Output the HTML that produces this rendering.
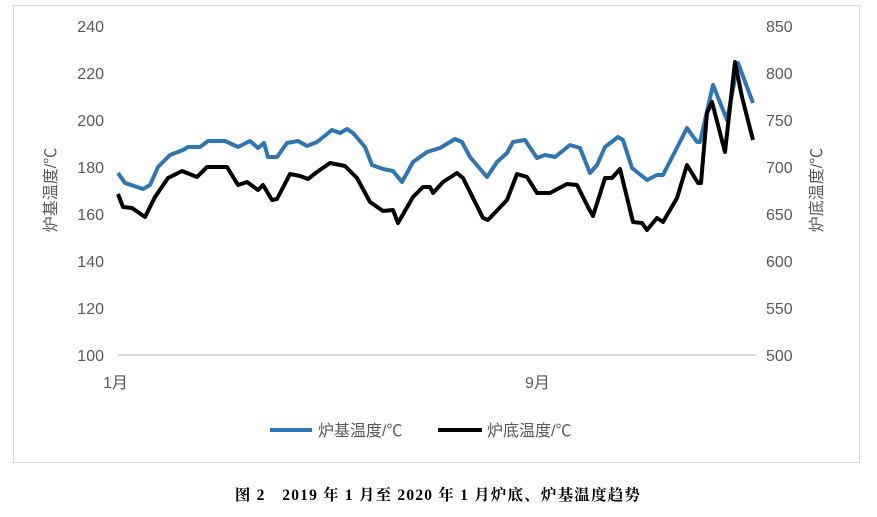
<!DOCTYPE html>
<html><head><meta charset="utf-8"><style>
body{margin:0;background:#fff;width:877px;height:512px;overflow:hidden}
</style></head><body>
<svg width="877" height="512" xmlns="http://www.w3.org/2000/svg" font-family="Liberation Sans, Noto Sans CJK SC, sans-serif">
<rect x="13.5" y="5.5" width="846" height="457" fill="#fff" stroke="#d9d9d9"/>
<line x1="118" y1="355" x2="756" y2="355" stroke="#d9d9d9" stroke-width="2"/>
<g font-size="16" fill="#595959" text-anchor="end">
<text x="104" y="32">240</text><text x="104" y="79">220</text><text x="104" y="126">200</text><text x="104" y="173">180</text><text x="104" y="220">160</text><text x="104" y="267">140</text><text x="104" y="314">120</text><text x="104" y="361">100</text>
</g>
<g font-size="16" fill="#595959" text-anchor="start">
<text x="766" y="32">850</text><text x="766" y="79">800</text><text x="766" y="126">750</text><text x="766" y="173">700</text><text x="766" y="220">650</text><text x="766" y="267">600</text><text x="766" y="314">550</text><text x="766" y="361">500</text>
</g>
<text x="103" y="388" font-size="16" fill="#595959">1月</text>
<text x="525" y="388" font-size="16" fill="#595959">9月</text>
<text transform="translate(56,190) rotate(-90)" font-size="16" fill="#595959" text-anchor="middle">炉基温度/℃</text>
<text transform="translate(822,190) rotate(-90)" font-size="16" fill="#595959" text-anchor="middle">炉底温度/℃</text>
<polyline fill="none" stroke="#2e75b6" stroke-width="4" stroke-linejoin="round" points="118,173 125,183 143,189 150,185 158,167 170,155 183,150 188,147 200,147 208,141 225,141 238,147 250,141 258,148 264,143 268,157 277,157 287,143 298,141 307,146 317,142 332,130 340,133 347,129 353,133 365,147 372,165 383,169 393,171 402,182 413,162 427,152 440,148 455,139 462,142 470,157 487,177 497,162 507,153 513,142 525,140 537,158 545,155 555,157 570,145 580,148 590,173 597,165 605,147 618,137 623,140 632,168 647,180 657,175 663,175 687,128 697,142 700,142 713,85 727,120 738,63 747,87 753,103"/>
<polyline fill="none" stroke="#000" stroke-width="4" stroke-linejoin="round" points="118,194 123,207 132,208 145,217 155,197 168,178 182,171 197,177 207,167 227,167 238,185 247,182 258,190 263,185 272,200 277,199 290,174 300,176 308,179 317,172 330,163 345,166 357,178 370,202 383,211 393,210 398,223 413,197 423,187 430,187 433,193 443,182 457,173 463,178 483,218 488,220 507,200 517,174 527,177 537,193 550,193 567,184 577,185 588,207 593,216 605,178 612,178 620,169 633,222 642,223 647,230 657,218 663,222 677,198 687,165 698,183 701,183 707,113 712,102 725,152 735,62 742,97 753,140"/>
<line x1="270" y1="430" x2="312" y2="430" stroke="#2e75b6" stroke-width="4"/>
<text x="318" y="436" font-size="16" fill="#595959">炉基温度/℃</text>
<line x1="438" y1="430" x2="482" y2="430" stroke="#000" stroke-width="4"/>
<text x="487" y="436" font-size="16" fill="#595959">炉底温度/℃</text>
<text x="438" y="500" font-size="15.5" font-weight="bold" fill="#000" text-anchor="middle" letter-spacing="1.2" font-family="Liberation Serif, Noto Serif CJK SC, serif">图 2　2019 年 1 月至 2020 年 1 月炉底、炉基温度趋势</text>
</svg>
</body></html>
